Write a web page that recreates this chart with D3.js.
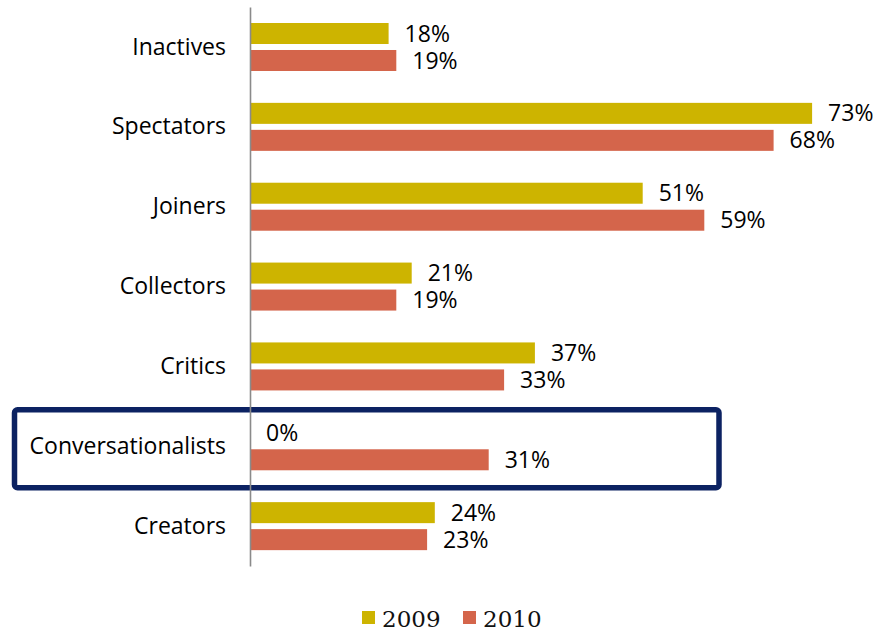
<!DOCTYPE html>
<html>
<head>
<meta charset="utf-8">
<script src="https://cdn.jsdelivr.net/npm/d3@7"></script>
<style>
  html, body { margin: 0; padding: 0; background: #fff; }
  svg { display: block; }
  .cat-axis text { font-family: "Open Sans", "Noto Sans", sans-serif; font-size: 23px; fill: #000; }
  .val { font-family: "Open Sans", "Noto Sans", sans-serif; font-size: 23px; fill: #000; }
  .legend text { font-family: "DejaVu Serif", "Liberation Serif", serif; font-size: 23px; fill: #111; }
</style>
</head>
<body>
<svg id="chart" width="887" height="633"></svg>
<script>
// Segments of social technographics, share of users per year
const categories = ["Inactives", "Spectators", "Joiners", "Collectors", "Critics", "Conversationalists", "Creators"];
const years = ["2009", "2010"];
const values2009 = [18, 73, 51, 21, 37, 0, 24];
const values2010 = [19, 68, 59, 19, 33, 31, 23];
const highlighted = "Conversationalists";

const colors = { "2009": "#CDB400", "2010": "#D4654B" };

const rows = categories.map((c, i) => ({
  category: c,
  bars: [
    { year: "2009", value: values2009[i] },
    { year: "2010", value: values2010[i] }
  ]
}));

const svg = d3.select("#chart");

const x = d3.scaleLinear().domain([0, 80]).range([250, 866]);
const y = d3.scaleBand().domain(categories).range([7, 566]).padding(0);
const yInner = d3.scaleBand().domain(years)
  .range([16, 64]).paddingInner(0.222).paddingOuter(0);

// highlight frame around one category
svg.append("rect")
  .attr("x", 14.5)
  .attr("y", y(highlighted) + 3.5)
  .attr("width", 704.5)
  .attr("height", 78)
  .attr("rx", 3)
  .attr("fill", "none")
  .attr("stroke", "#0C2262")
  .attr("stroke-width", 5.5);

const groups = svg.append("g").selectAll("g.row")
  .data(rows)
  .join("g")
  .attr("class", "row")
  .attr("transform", d => `translate(0,${y(d.category)})`);

groups.selectAll("rect.bar")
  .data(d => d.bars)
  .join("rect")
  .attr("class", "bar")
  .attr("x", x(0))
  .attr("y", d => yInner(d.year))
  .attr("width", d => x(d.value) - x(0))
  .attr("height", yInner.bandwidth())
  .attr("fill", d => colors[d.year]);

groups.selectAll("text.val")
  .data(d => d.bars)
  .join("text")
  .attr("class", "val")
  .attr("x", d => x(d.value) + 16)
  .attr("y", d => yInner(d.year) + yInner.bandwidth() / 2)
  .attr("dy", "0.35em")
  .text(d => d.value + "%");

// category axis
const axis = svg.append("g")
  .attr("class", "cat-axis")
  .attr("transform", `translate(${x(0)},0)`)
  .call(d3.axisLeft(y).tickSize(0).tickSizeOuter(0).tickPadding(24));
axis.select(".domain").attr("stroke", "#8a8a8a").attr("stroke-width", 1.6);
axis.selectAll(".tick text").attr("dy", "0.33em");

// legend
const legendX = [362, 463];
const legend = svg.append("g").attr("class", "legend")
  .selectAll("g")
  .data(years)
  .join("g")
  .attr("transform", (d, i) => `translate(${legendX[i]},611)`);
legend.append("rect")
  .attr("width", 13).attr("height", 13)
  .attr("fill", d => colors[d]);
legend.append("text")
  .attr("x", 20).attr("y", 16)
  .text(d => d);
</script>
</body>
</html>
